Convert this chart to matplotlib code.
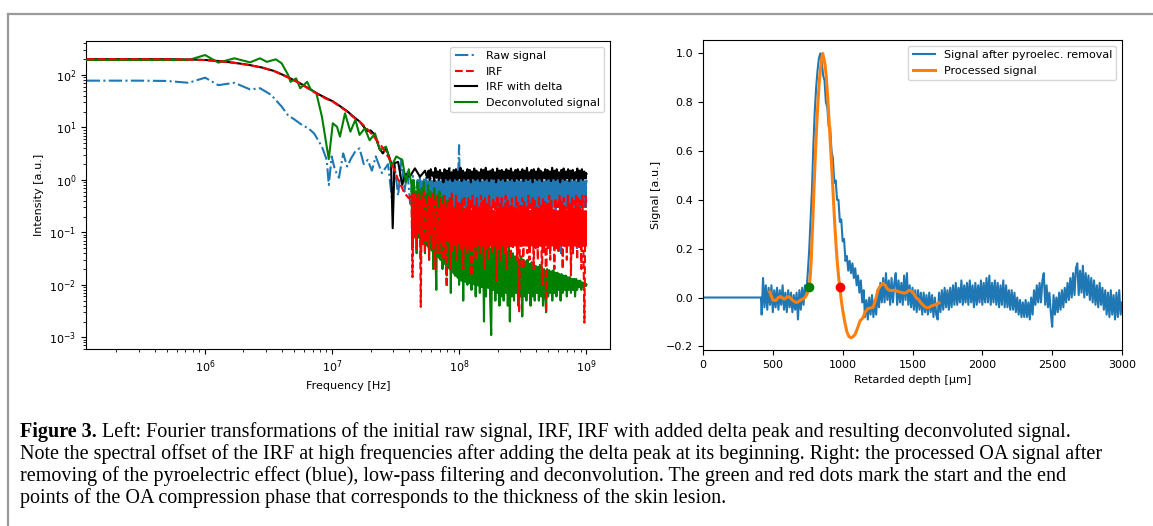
import numpy as np
import matplotlib.pyplot as plt
from matplotlib.lines import Line2D

# ---- left panel: Fourier spectra (low-frequency part, read point by point) ----
raw_f = [1.17e5, 3e5, 5e5, 7.4e5, 1.0e6, 1.27e6, 1.7e6, 2.26e6, 2.7e6, 3.3e6,
         4.0e6, 4.5e6, 5.0e6, 5.8e6, 6.5e6, 7.2e6, 8.3e6, 9.05e6, 9.4e6, 9.9e6,
         1.05e7, 1.13e7, 1.22e7, 1.31e7, 1.41e7, 1.52e7, 1.64e7, 1.77e7, 1.9e7, 2.05e7,
         2.2e7, 2.46e7, 2.75e7, 2.96e7, 3.1e7, 3.3e7, 3.5e7, 3.7e7, 3.9e7, 4.1e7,
         4.3e7, 4.5e7]
raw_v = [78, 78, 77, 71, 89, 64, 71, 53, 56, 42,
         25, 17, 14.4, 11.1, 9.6, 7.7, 4.3, 2.4, 0.8, 2.8,
         1.55, 1.1, 3.2, 1.8, 2.6, 3.5, 4.0, 2.0, 2.4, 1.5,
         2.8, 1.35, 2.0, 0.4, 1.8, 0.5, 2.5, 0.6, 1.5, 0.35,
         1.2, 0.5]

irf_f = [1.17e5, 5e5, 8e5, 1e6, 1.3e6, 1.7e6, 2.2e6, 2.8e6, 3.5e6, 4.4e6,
         5.5e6, 6.5e6, 7.8e6, 9e6, 1.01e7, 1.15e7, 1.31e7, 1.45e7, 1.64e7, 1.8e7,
         1.97e7, 2.2e7, 2.46e7, 2.65e7, 2.85e7, 3.1e7, 3.3e7, 3.5e7, 3.7e7, 4.0e7]
irf_v = [200, 200, 196, 192, 183, 170, 155, 138, 118, 92,
         70, 55, 42, 35, 31, 25, 20, 16, 13, 10.5,
         8.3, 6, 4.3, 3.2, 2.4, 1.5, 1.0, 0.75, 0.56, 0.45]

delta_f = [1.17e5, 5e5, 8e5, 1e6, 1.3e6, 1.7e6, 2.2e6, 2.8e6, 3.5e6, 4.4e6,
           5.5e6, 6.5e6, 7.8e6, 9e6, 1.01e7, 1.15e7, 1.31e7, 1.45e7, 1.64e7, 1.8e7,
           1.9e7, 2.0e7, 2.1e7, 2.2e7, 2.35e7, 2.5e7, 2.65e7, 2.8e7, 2.9e7, 2.99e7,
           3.09e7, 3.3e7, 3.55e7, 3.76e7, 4.07e7, 4.47e7, 4.9e7, 5.37e7]
delta_v = [200, 200, 197, 193, 184, 171, 156, 139, 119, 93,
           71, 56, 43, 36, 31.5, 25.5, 20.5, 16.5, 13, 9.8,
           8.5, 8.8, 7.8, 6.3, 4.0, 3.2, 4.0, 2.8, 2.1, 0.12,
           2.1, 2.2, 0.8, 1.3, 1.15, 1.66, 1.15, 1.5]

deconv_f = [1.17e5, 7.4e5, 1.0e6, 1.27e6, 1.7e6, 2.26e6, 2.7e6, 3.06e6, 3.6e6, 4.0e6,
            4.5e6, 4.7e6, 5.2e6, 5.6e6, 6.35e6, 6.8e6, 7.5e6, 8.3e6, 9.05e6, 9.4e6,
            1.01e7, 1.09e7, 1.15e7, 1.26e7, 1.39e7, 1.52e7, 1.64e7, 1.8e7, 1.97e7, 2.17e7,
            2.37e7, 2.65e7, 2.92e7, 3.19e7, 3.56e7, 3.8e7, 4.0e7]
deconv_v = [193, 193, 240, 172, 208, 174, 208, 178, 199, 167,
            100, 74, 86, 56, 74, 52, 45, 16, 4.3, 2.5,
            12, 10.3, 6.7, 18.6, 8.3, 14, 7.2, 9.6, 5.7, 7.7,
            3.7, 4.3, 1.8, 2.8, 2.4, 0.9, 1.6]

# ---- high-frequency noise floor, one value per sample up to 1 GHz ----
raw_hf = [1.0, 0.3, 1.2, 0.25, 0.9, 0.4, 1.1, 0.3, 1.3, 0.35,
          0.9, 0.3, 1.1, 0.2, 1.0, 0.45, 1.2, 0.3, 0.9, 0.25,
          1.1, 0.4, 0.03, 1.2, 0.3, 1.0, 0.35, 1.1, 0.2, 1.3,
          1.8, 0.3, 1.0, 0.4, 1.4, 0.25, 1.2, 0.35, 1.0, 4.6,
          0.3, 1.1, 0.25, 1.0, 0.4, 1.2, 0.3, 0.9, 0.2, 1.1,
          0.35, 1.0, 0.3, 1.2, 0.1, 1.1, 0.4, 1.0, 0.25, 1.3,
          0.3, 0.9, 0.35, 1.1, 0.2, 1.0, 0.45, 1.2, 0.3, 1.0,
          0.25, 1.1, 0.4, 0.9, 0.3, 1.2, 0.2, 1.0, 0.35, 1.1,
          0.3, 1.2, 0.25, 1.0, 0.4, 0.9, 0.08, 1.1, 0.3, 1.2,
          0.35, 1.0, 0.2, 1.1, 0.4, 1.2, 0.3, 0.9, 0.25, 1.0,
          0.45, 1.1, 0.3, 1.2, 0.2, 1.0, 0.35, 1.1, 0.3, 0.9,
          0.4, 1.2, 0.25, 1.0, 0.3, 1.1, 0.35, 1.2, 0.2, 1.0,
          0.3, 0.9, 0.4, 1.1, 0.25, 1.2, 0.3, 1.0, 0.35, 1.1,
          0.2, 1.0, 0.4, 1.2, 0.3, 0.04, 1.1, 0.25, 1.0, 0.35,
          1.2, 0.3, 0.9, 0.4, 1.1, 0.2, 1.0, 0.35, 1.2, 0.3,
          0.05, 1.1, 0.25, 1.0, 0.4, 1.2, 0.3, 0.9, 0.35, 1.0]
irf_hf = [0.5, 0.014, 0.6, 0.08, 0.45, 0.05, 0.55, 0.1, 0.4, 0.0038,
          0.5, 0.06, 0.6, 0.04, 0.35, 0.07, 0.5, 0.03, 0.45, 0.09,
          0.55, 0.05, 0.4, 0.02, 0.5, 0.06, 0.3, 0.04, 0.45, 0.08,
          0.35, 0.03, 0.5, 0.05, 0.009, 0.4, 0.07, 0.45, 0.02, 0.55,
          0.04, 0.3, 0.06, 0.5, 0.03, 0.4, 0.08, 0.35, 0.05, 0.45,
          0.02, 0.5, 0.06, 0.3, 0.04, 0.45, 0.07, 0.4, 0.015, 0.5,
          0.05, 0.35, 0.03, 0.45, 0.06, 0.3, 0.04, 0.5, 0.08, 0.4,
          0.02, 0.45, 0.05, 0.35, 0.03, 0.5, 0.07, 0.3, 0.04, 0.45,
          0.06, 0.4, 0.012, 0.5, 0.05, 0.35, 0.03, 0.45, 0.07, 0.3,
          0.04, 0.5, 0.02, 0.4, 0.06, 0.35, 0.03, 0.45, 0.05, 0.3,
          0.07, 0.5, 0.03, 0.4, 0.003, 0.35, 0.05, 0.45, 0.02, 0.4,
          0.06, 0.3, 0.04, 0.5, 0.03, 0.35, 0.07, 0.45, 0.02, 0.4,
          0.05, 0.3, 0.03, 0.5, 0.06, 0.35, 0.01, 0.45, 0.04, 0.4,
          0.003, 0.35, 0.05, 0.5, 0.03, 0.4, 0.06, 0.3, 0.02, 0.45,
          0.05, 0.35, 0.04, 0.5, 0.07, 0.4, 0.02, 0.45, 0.05, 0.3,
          0.03, 0.5, 0.06, 0.35, 0.015, 0.45, 0.04, 0.4, 0.07, 0.5,
          0.03, 0.45, 0.05, 0.4, 0.02, 0.5, 0.06, 0.0019, 0.5, 0.35]
delta_hf = [1.1, 1.5, 1.0, 1.6, 1.2, 1.4, 0.95, 1.7, 1.1, 1.45,
            1.0, 1.55, 1.2, 1.35, 0.9, 1.6, 1.15, 1.5, 1.0, 1.65,
            1.1, 1.4, 0.95, 1.55, 1.2, 1.6, 1.0, 1.45, 1.1, 1.7,
            0.95, 1.5, 1.15, 1.4, 1.0, 1.6, 1.2, 1.55, 0.9, 1.45,
            1.1, 1.65, 1.0, 1.5, 1.2, 1.4, 0.95, 1.6, 1.1, 1.55,
            1.0, 1.7, 1.15, 1.45, 0.95, 1.5, 1.2, 1.6, 1.05, 1.4,
            0.9, 1.65, 1.1, 1.5, 1.0, 1.55, 1.2, 1.45, 0.95, 1.6,
            1.1, 1.5, 1.0, 1.65, 1.15, 1.4, 0.95, 1.55, 1.1, 1.6,
            1.0, 1.45, 1.2, 1.6, 0.95, 1.5, 1.1, 1.7, 1.0, 1.4,
            1.15, 1.55, 0.9, 1.6, 1.1, 1.45, 1.0, 1.65, 1.2, 1.5,
            0.95, 1.4, 1.1, 1.6, 1.0, 1.55, 1.15, 1.45, 0.95, 1.7,
            1.1, 1.5, 1.0, 1.6, 1.2, 1.4, 0.9, 1.55, 1.1, 1.65,
            1.0, 1.45, 1.15, 1.6, 0.95, 1.5, 1.1, 1.55, 1.0, 1.4,
            1.2, 1.65, 0.95, 1.5, 1.1, 1.6, 1.0, 1.45, 1.15, 1.3]
deconv_hf = [0.8, 0.05, 1.0, 0.1, 0.6, 0.04, 0.9, 0.08, 0.5, 0.03,
             0.7, 0.06, 0.9, 0.04, 0.5, 0.1, 0.8, 0.03, 0.6, 0.05,
             0.4, 0.02, 0.7, 0.05, 0.008, 0.5, 0.04, 0.6, 0.03, 0.45,
             0.02, 0.5, 0.03, 0.35, 0.015, 0.4, 0.025, 0.3, 0.007, 0.45,
             0.02, 0.3, 0.015, 0.4, 0.03, 0.25, 0.01, 0.35, 0.02, 0.3,
             0.005, 0.25, 0.015, 0.3, 0.01, 0.2, 0.02, 0.25, 0.008, 0.2,
             0.012, 0.15, 0.006, 0.22, 0.01, 0.12, 0.007, 0.18, 0.009, 0.1,
             0.002, 0.15, 0.006, 0.08, 0.01, 0.12, 0.005, 0.0011, 0.07, 0.008,
             0.1, 0.005, 0.06, 0.007, 0.09, 0.004, 0.05, 0.006, 0.07, 0.005,
             0.05, 0.007, 0.04, 0.004, 0.06, 0.002, 0.045, 0.006, 0.04, 0.005,
             0.035, 0.007, 0.04, 0.004, 0.03, 0.006, 0.035, 0.0025, 0.03, 0.006,
             0.028, 0.005, 0.03, 0.007, 0.025, 0.004, 0.027, 0.006, 0.024, 0.005,
             0.023, 0.007, 0.022, 0.005, 0.024, 0.006, 0.021, 0.004, 0.02, 0.007,
             0.003, 0.02, 0.006, 0.019, 0.007, 0.018, 0.005, 0.019, 0.007, 0.017,
             0.006, 0.017, 0.008, 0.016, 0.005, 0.016, 0.007, 0.015, 0.008, 0.015,
             0.006, 0.014, 0.008, 0.014, 0.007, 0.013, 0.008, 0.013, 0.006, 0.013,
             0.008, 0.012, 0.009, 0.012, 0.008, 0.011, 0.009, 0.011, 0.0095, 0.01]

# dense core of each noise floor (where the trace oscillates so fast it looks solid)
band_f = [4.7e7, 7e7, 1e8, 1.5e8, 2e8, 4e8, 1e9]
raw_lo = [0.4, 0.32, 0.3, 0.3, 0.3, 0.3, 0.3]
raw_hi = [1.0, 1.0, 1.0, 1.0, 1.0, 1.0, 1.0]
delta_lo = [1.05, 1.05, 1.05, 1.05, 1.05, 1.05, 1.05]
delta_hi = [1.2, 1.4, 1.45, 1.45, 1.45, 1.45, 1.45]
irf_lo = [0.1, 0.07, 0.06, 0.055, 0.055, 0.055, 0.055]
irf_hi = [0.45, 0.3, 0.28, 0.27, 0.27, 0.27, 0.27]
deconv_lo = [0.08, 0.03, 0.012, 0.009, 0.008, 0.007, 0.0095]
deconv_hi = [0.7, 0.4, 0.2, 0.07, 0.04, 0.022, 0.011]

# ---- right panel: OA signal vs retarded depth ----
blue_flat_depth = [0, 415]
blue_flat_val = [0.0, 0.0]
blue_vals = [  # 420 .. 3000 um, 10 um apart
    -0.07, 0.08, -0.04, 0.05, -0.05, 0.04, -0.03, 0.05, -0.06, 0.03,
    -0.04, 0.04, -0.05, 0.03, -0.03, 0.05, -0.05, 0.02, -0.06, 0.03,
    -0.04, 0.02, -0.06, 0.01, -0.05, 0.02, -0.09, 0.03, -0.05, 0.04,
    -0.03, 0.05, 0.02,
    0.10, 0.19, 0.32, 0.44, 0.62, 0.76, 0.86, 0.93, 0.98, 1.0,
    0.97, 0.91, 0.89, 0.80, 0.78, 0.70, 0.70, 0.60, 0.57, 0.47,
    0.48, 0.40, 0.40, 0.31, 0.32, 0.23, 0.24, 0.15, 0.17, 0.11,
    0.15, 0.10, 0.14, 0.08, 0.12, 0.05, 0.09, 0.02, 0.07, -0.02,
    0.03,
    -0.08, -0.01, -0.09, 0.0, -0.07, 0.01, -0.08, -0.01, -0.07, 0.03,
    -0.04, 0.06, -0.02, 0.08, -0.02, 0.10, -0.01, 0.07, -0.03, 0.08,
    -0.02, 0.06, 0.10, -0.03, 0.07, -0.02, 0.06, -0.03, 0.09, -0.01,
    0.10, -0.03, 0.05, -0.04, 0.04, -0.05, 0.03, -0.06, 0.03, -0.05,
    0.02, -0.07, 0.02, -0.06, 0.01, -0.07, 0.02, -0.06, 0.01, -0.08,
    0.0, -0.07, -0.09, 0.02, -0.06, 0.03, -0.05, 0.04, -0.04, 0.03,
    -0.05, 0.04, -0.04, 0.05, -0.03, 0.06, -0.03, 0.04, -0.02, 0.07,
    -0.03, 0.05, -0.02, 0.06, -0.03, 0.07, -0.02, 0.05, -0.04, 0.06,
    -0.03, 0.05, -0.02, 0.07, -0.03, 0.06, -0.02, 0.08, -0.02, 0.09,
    -0.03, 0.06, -0.02, 0.07, -0.03, 0.06, -0.04, 0.05, -0.03, 0.07,
    -0.04, 0.05, -0.04, 0.03, -0.05, 0.03, -0.05, 0.02, -0.06, 0.0,
    -0.07, -0.01, -0.08, -0.02, -0.08, -0.01, -0.08, -0.02, -0.09, 0.0,
    -0.07, 0.03, -0.03, 0.05, -0.02, 0.06, -0.02, 0.07, 0.10, -0.03,
    0.05, -0.04, 0.02, -0.06, -0.12, 0.01, -0.07, 0.0, -0.06, 0.02,
    -0.05, 0.03, -0.04, 0.04, -0.02, 0.06, -0.01, 0.08, 0.0, 0.10,
    0.01, 0.12, 0.14, 0.01, 0.11, 0.02, 0.13, 0.0, 0.10, 0.01,
    0.09, -0.01, 0.08, -0.02, 0.07, -0.03, 0.05, -0.04, 0.06, -0.03,
    0.04, -0.05, 0.03, -0.07, 0.02, -0.08, 0.03, -0.07, 0.01, -0.09,
    0.02, -0.08, 0.03, -0.07, -0.02]

proc_depth = [478, 490, 500, 510, 524, 540, 555, 565, 578, 589,
              600, 612, 625, 640, 655, 672, 690, 705, 719, 732,
              743, 752, 761, 768, 775, 787, 799, 811, 823, 832,
              840, 850, 857, 865, 875, 883, 894, 904, 914, 924,
              934, 943, 952, 960, 970, 979, 990, 1000, 1015, 1030,
              1045, 1060, 1075, 1090, 1110, 1125, 1146, 1160, 1182, 1200,
              1218, 1235, 1254, 1270, 1290, 1305, 1320, 1335, 1350, 1370,
              1390, 1410, 1425, 1445, 1460, 1475, 1490, 1510, 1525, 1545,
              1565, 1589, 1605, 1620, 1637, 1660, 1675, 1690]
proc_val = [0.023, 0.005, -0.01, -0.012, -0.011, 0.0, 0.004, 0.0, -0.006, -0.005,
            0.002, 0.004, -0.002, -0.01, -0.017, -0.02, -0.014, -0.008, -0.005, 0.002,
            0.012, 0.025, 0.044, 0.09, 0.155, 0.33, 0.51, 0.67, 0.80, 0.88,
            0.93, 0.98, 1.0, 0.98, 0.95, 0.90, 0.81, 0.71, 0.61, 0.51,
            0.40, 0.305, 0.22, 0.155, 0.09, 0.044, -0.01, -0.05, -0.10, -0.14,
            -0.16, -0.165, -0.16, -0.15, -0.12, -0.095, -0.083, -0.06, -0.045, -0.043,
            -0.04, -0.01, 0.033, 0.048, 0.058, 0.05, 0.035, 0.03, 0.028, 0.03,
            0.026, 0.022, 0.02, 0.018, 0.022, 0.03, 0.027, 0.015, 0.0, -0.01,
            -0.025, -0.038, -0.042, -0.04, -0.034, -0.03, -0.026, -0.022]

dot_depth = [761, 979]
dot_val = [0.044, 0.044]
dot_colors = ['green', 'red']

caption_bold = 'Figure 3.'
caption_lines = [
    ' Left: Fourier transformations of the initial raw signal, IRF, IRF with added delta peak and resulting deconvoluted signal.',
    'Note the spectral offset of the IRF at high frequencies after adding the delta peak at its beginning. Right: the processed OA signal after',
    'removing of the pyroelectric effect (blue), low-pass filtering and deconvolution. The green and red dots mark the start and the end',
    'points of the OA compression phase that corresponds to the thickness of the skin lesion.',
]

plt.rcParams['font.family'] = ['DejaVu Sans']
plt.rcParams['font.size'] = 8

W, H = 1153, 526
fig = plt.figure(figsize=(W / 100, H / 100), dpi=100)


def box(l, t, r, b):
    return [l / W, 1 - b / H, (r - l) / W, (b - t) / H]


# left panel
ax1 = fig.add_axes(box(86, 41, 610, 349))
x_raw = np.concatenate([raw_f, np.geomspace(4.7e7, 1e9, len(raw_hf))])
x_irf = np.concatenate([irf_f, np.geomspace(4.2e7, 1e9, len(irf_hf))])
x_del = np.concatenate([delta_f, np.geomspace(5.6e7, 1e9, len(delta_hf))])
x_dec = np.concatenate([deconv_f, np.geomspace(4.2e7, 1e9, len(deconv_hf))])
ax1.plot(x_raw, raw_v + raw_hf, '-.', color='#1f77b4', lw=1.5, label='Raw signal', zorder=1)
ax1.plot(x_irf, irf_v + irf_hf, '--', color='red', lw=1.5, label='IRF', zorder=4)
ax1.plot(x_del, delta_v + delta_hf, '-', color='black', lw=1.5, label='IRF with delta', zorder=2)
ax1.plot(x_dec, deconv_v + deconv_hf, '-', color='green', lw=1.5, label='Deconvoluted signal', zorder=3)
ax1.fill_between(band_f, raw_lo, raw_hi, color='#1f77b4', lw=0, zorder=1)
ax1.fill_between(band_f[1:], delta_lo[1:], delta_hi[1:], color='black', lw=0, zorder=2)
ax1.fill_between(band_f, deconv_lo, deconv_hi, color='green', lw=0, zorder=3)
ax1.fill_between(band_f[1:], irf_lo[1:], irf_hi[1:], color='red', lw=0, zorder=4)
ax1.set_xscale('log')
ax1.set_yscale('log')
ax1.set_xlim(10 ** 5.063, 10 ** 9.185)
ax1.set_ylim(10 ** -3.223, 10 ** 2.648)
ax1.set_xlabel('Frequency [Hz]')
ax1.set_ylabel('Intensity [a.u.]')
ax1.legend(loc='upper right', fontsize=8)

# right panel
ax2 = fig.add_axes(box(703, 40, 1122, 350))
x_blue = np.concatenate([blue_flat_depth, np.linspace(420, 3000, len(blue_vals))])
ax2.plot(x_blue, blue_flat_val + blue_vals, color='#1f77b4', lw=1.5,
         label='Signal after pyroelec. removal')
ax2.plot(proc_depth, proc_val, color='#ff7f0e', lw=2.2, label='Processed signal')
for d, v, c in zip(dot_depth, dot_val, dot_colors):
    ax2.plot(d, v, 'o', color=c, ms=6, zorder=5)
ax2.set_xlim(0, 3000)
ax2.set_ylim(-0.215, 1.055)
ax2.set_xlabel('Retarded depth [μm]')
ax2.set_ylabel('Signal [a.u.]')
ax2.legend(loc='upper right', fontsize=8)

# grey frame round the figure
fig.add_artist(Line2D([8 / W, 1], [1 - 13.5 / H] * 2, color='#9a9a9a', lw=1.6))
fig.add_artist(Line2D([8 / W] * 2, [0, 1 - 13.5 / H], color='#9a9a9a', lw=1.6))

# caption
serif = ['Liberation Serif', 'DejaVu Serif']
cap_fs = 14.5
x0 = 20 / W
base = [437, 459, 481, 503]
tb = fig.text(x0, 1 - base[0] / H, caption_bold, family=serif, fontsize=cap_fs,
              fontweight='bold', va='baseline')
fig.canvas.draw()
bb = tb.get_window_extent()
fig.text(bb.x1 / W, 1 - base[0] / H, caption_lines[0], family=serif, fontsize=cap_fs, va='baseline')
for line, b in zip(caption_lines[1:], base[1:]):
    fig.text(x0, 1 - b / H, line, family=serif, fontsize=cap_fs, va='baseline')

fig.savefig('out.png', dpi=100)
